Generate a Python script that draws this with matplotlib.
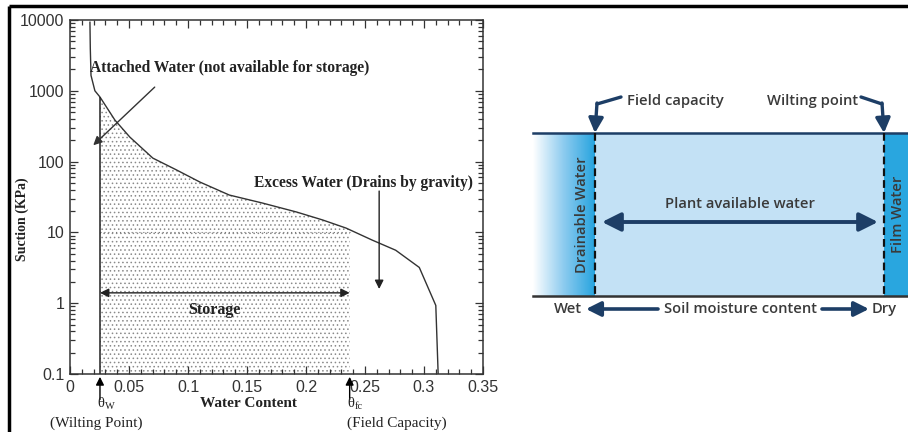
import numpy as np
import matplotlib
matplotlib.use('Agg')
import matplotlib.pyplot as plt
from matplotlib.colors import LinearSegmentedColormap

plt.rcParams['hatch.linewidth'] = 0.6

# soil water retention curve
water_content = [0.0169, 0.0172, 0.0178, 0.0211, 0.0254, 0.038, 0.0507, 0.0702, 0.0904,
                 0.110, 0.135, 0.163, 0.192, 0.214, 0.234, 0.256, 0.276, 0.296, 0.310, 0.312]
suction = [9300, 4000, 1650, 1000, 817, 387, 222, 112, 76,
           51.5, 33.7, 26, 19.4, 15, 11.5, 7.8, 5.6, 3.2, 0.93, 0.1]
theta_w = 0.0254
theta_fc = 0.237

x_ticks = [0, 0.05, 0.1, 0.15, 0.2, 0.25, 0.3, 0.35]
x_labels = ['0', '0.05', '0.1', '0.15', '0.2', '0.25', '0.3', '0.35']
y_ticks = [0.1, 1, 10, 100, 1000, 10000]
y_labels = ['0.1', '1', '10', '100', '1000', '10000']

serif = 'Liberation Serif'
sans = 'Liberation Sans'
diag_font = 'Open Sans'
navy = '#1d3e66'
txt = '#3a3a3a'

W, H = 908, 432
fig = plt.figure(figsize=(W / 100, H / 100), dpi=100)

# overlay in pixel coords for the frame and the right-hand diagram
ov = fig.add_axes([0, 0, 1, 1])
ov.set_xlim(0, W)
ov.set_ylim(H, 0)
ov.axis('off')
ov.patch.set_alpha(0)

ov.plot([9, W], [6, 6], color='black', lw=2.5, solid_capstyle='butt')
ov.plot([9, 9], [6, H], color='black', lw=2.5, solid_capstyle='butt')

# ---- left: retention curve ----
ax = fig.add_axes([70 / W, 1 - 374 / H, 413 / W, 354 / H])
wc = np.array(water_content)
s = np.array(suction)

mask = (wc >= theta_w) & (wc <= theta_fc)
s_fc = 10 ** np.interp(theta_fc, wc, np.log10(s))
fx = np.concatenate([wc[mask], [theta_fc]])
fy = np.concatenate([s[mask], [s_fc]])
ax.fill_between(fx, 0.1, fy, facecolor='none', edgecolor='#8a8a8a', hatch='....', linewidth=0)
ax.plot([theta_w, theta_fc], [10, 10], color='#777777', lw=0.8, ls=(0, (1, 2.5)))

ax.plot(wc, s, color='#333333', lw=1.0)
ax.vlines(theta_w, 0.1, s[4], color='#222222', lw=1.1)

ax.set_yscale('log')
ax.set_xlim(0, 0.35)
ax.set_ylim(0.1, 10000)
ax.set_xticks(x_ticks)
ax.set_xticklabels(x_labels)
ax.set_xticks(np.arange(0, 0.351, 0.01), minor=True)
ax.set_yticks(y_ticks)
ax.set_yticklabels(y_labels)
ax.tick_params(which='both', direction='in', top=True, right=True, colors='#333333',
               labelcolor='#333333', width=0.9)
ax.tick_params(which='major', length=6, labelsize=11.5, pad=4)
ax.tick_params(which='minor', length=3.5)
for lab in ax.get_xticklabels() + ax.get_yticklabels():
    lab.set_fontfamily(sans)
for sp in ax.spines.values():
    sp.set_color('#333333')
    sp.set_linewidth(1.1)

ax.text(0.151, -0.082, 'Water Content', transform=ax.get_xaxis_transform(), ha='center',
        va='center', family=serif, weight='bold', fontsize=11, color='#222222')
ax.text(-0.116, 0.438, 'Suction (KPa)', transform=ax.transAxes, rotation=90, ha='center',
        va='center', family=serif, weight='bold', fontsize=10, color='#222222')

ax.text(0.0169, 2100, 'Attached Water (not available for storage)', ha='left', va='center',
        family=serif, weight='bold', fontsize=11.2, color='#222222')
ax.annotate('', xy=(0.018, 160), xytext=(0.0735, 1200),
            arrowprops=dict(arrowstyle='-|>', color='#333333', lw=1.0, mutation_scale=13))

ax.text(0.156, 50, 'Excess Water (Drains by gravity)', ha='left', va='center',
        family=serif, weight='bold', fontsize=11.2, color='#222222')
ax.annotate('', xy=(0.262, 1.45), xytext=(0.262, 42),
            arrowprops=dict(arrowstyle='-|>', color='#222222', lw=1.0, mutation_scale=13))

ax.annotate('', xy=(theta_w, 1.4), xytext=(theta_fc, 1.4),
            arrowprops=dict(arrowstyle='<|-|>', color='#222222', lw=1.0, mutation_scale=13,
                            shrinkA=0, shrinkB=0))
ax.text(0.122, 0.8, 'Storage', ha='center', va='center', family=serif, weight='bold',
        fontsize=11.5, color='#222222')

bt = ax.get_xaxis_transform()
for xv, sub, name, nx, nha in [(theta_w, 'W', '(Wilting Point)', 0.022, 'center'),
                               (theta_fc, 'fc', '(Field Capacity)', 0.235, 'left')]:
    ax.annotate('', xy=(xv, -0.008), xycoords=bt, xytext=(xv, -0.072), textcoords=bt,
                arrowprops=dict(arrowstyle='-|>', color='black', lw=1.0, mutation_scale=12,
                                shrinkA=0, shrinkB=0), annotation_clip=False)
    ax.text(xv - 0.002, -0.082, '\u03b8', transform=bt, ha='left', va='center', family=serif,
            fontsize=10.5, color='#222222', clip_on=False)
    ax.text(xv + 0.0045, -0.092, sub, transform=bt, ha='left', va='center', family=serif,
            fontsize=7.5, color='#222222', clip_on=False)
    ax.text(nx, -0.138, name, transform=bt, ha=nha, va='center', family=serif,
            fontsize=11, color='#222222', clip_on=False)

# ---- right: soil moisture diagram ----
x0, xfc, xwp, x1 = 533, 595, 884, 908
ytop, ybot = 133, 296

grad = LinearSegmentedColormap.from_list('drain', ['#ffffff', '#8ccbef', '#27a4df'])
ov.imshow(np.linspace(0, 1, 256).reshape(1, -1), cmap=grad, aspect='auto',
          extent=[x0, xfc, ybot, ytop], zorder=1)
ov.fill_between([xfc, xwp], ytop, ybot, color='#c3e1f5', lw=0, zorder=1)
ov.fill_between([xwp, x1], ytop, ybot, color='#29a6df', lw=0, zorder=1)
ov.set_xlim(0, W)
ov.set_ylim(H, 0)

ov.plot([x0, x1], [ytop, ytop], color=navy, lw=1.8, zorder=3)
ov.plot([x0, x1], [ybot, ybot], color='#333333', lw=1.8, zorder=3)
for xv in (xfc, xwp):
    ov.plot([xv, xv], [ytop, ybot], color='#111111', lw=1.6, ls=(0, (3.5, 1.8)), zorder=3)

fs = 10.6
ov.text(582, 215, 'Drainable Water', rotation=90, ha='center', va='center',
        family=diag_font, weight='semibold', fontsize=fs, color=txt, zorder=4)
ov.text(898, 214, 'Film Water', rotation=90, ha='center', va='center',
        family=diag_font, weight='semibold', fontsize=fs, color=txt, zorder=4)
ov.text(740, 204, 'Plant available water', ha='center', va='center',
        family=diag_font, weight='semibold', fontsize=fs, color=txt, zorder=4)
ov.annotate('', xy=(602, 222), xytext=(878, 222),
            arrowprops=dict(arrowstyle='<|-|>', color=navy, lw=2.8, mutation_scale=28,
                            shrinkA=0, shrinkB=0), zorder=4)

# field capacity / wilting point callouts
ov.text(627, 101, 'Field capacity', ha='left', va='center', family=diag_font,
        weight='semibold', fontsize=fs, color=txt)
ov.plot([621, 597], [97, 104], color=navy, lw=2.4, solid_capstyle='round')
ov.annotate('', xy=(xfc, 133), xytext=(597, 103),
            arrowprops=dict(arrowstyle='-|>', color=navy, lw=2.4, mutation_scale=22,
                            shrinkA=0, shrinkB=0))
ov.text(858, 101, 'Wilting point', ha='right', va='center', family=diag_font,
        weight='semibold', fontsize=fs, color=txt)
ov.plot([861, 882], [97, 104], color=navy, lw=2.4, solid_capstyle='round')
ov.annotate('', xy=(xwp, 133), xytext=(882, 103),
            arrowprops=dict(arrowstyle='-|>', color=navy, lw=2.4, mutation_scale=22,
                            shrinkA=0, shrinkB=0))

# bottom axis caption
ov.text(582, 309, 'Wet', ha='right', va='center', family=diag_font, weight='semibold',
        fontsize=fs, color=txt)
ov.annotate('', xy=(586, 309), xytext=(658, 309),
            arrowprops=dict(arrowstyle='-|>', color=navy, lw=2.6, mutation_scale=22,
                            shrinkA=0, shrinkB=0))
ov.text(740, 309, 'Soil moisture content', ha='center', va='center', family=diag_font,
        weight='semibold', fontsize=fs, color=txt)
ov.annotate('', xy=(869, 309), xytext=(822, 309),
            arrowprops=dict(arrowstyle='-|>', color=navy, lw=2.6, mutation_scale=22,
                            shrinkA=0, shrinkB=0))
ov.text(872, 309, 'Dry', ha='left', va='center', family=diag_font, weight='semibold',
        fontsize=fs, color=txt)

fig.savefig('out.png', dpi=100)
